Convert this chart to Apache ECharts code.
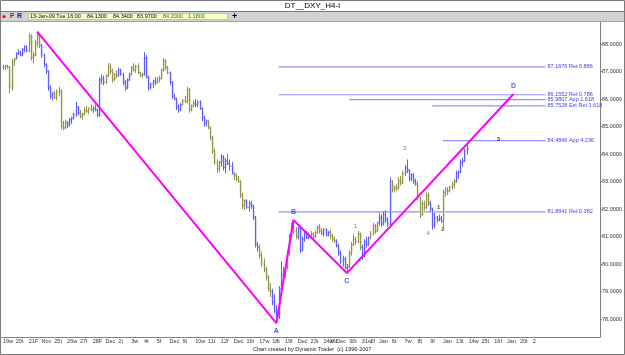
<!DOCTYPE html>
<html>
<head>
<meta charset="utf-8">
<script src="https://cdn.jsdelivr.net/npm/echarts@6/dist/echarts.min.js"></script>
<style>
  html, body { margin: 0; padding: 0; background: #fff; }
  #main { width: 625px; height: 355px; }
</style>
</head>
<body>
<div id="main"></div>
<script>
// day labels on the time axis, and how many H4 bars each session has
const dayLabels = ['19w','20t','21F','Nov','25t','26w','27t','28F','Dec','2t','3w','4t','5f','Dec','9t','10w','11t','12f',
  'Dec','16t','17w','18t','19f','Dec','23t','24w','26f','Dec','30t','31w','2f','Jan','6t','7w','8t','9f','Jan','13t',
  '14w','15t','16f','Jan','20t','2'];
const dayBarCounts = [6,6,6,6,6,6,6,6,6,6,6,6,6,6,6,6,6,6,6,6,6,6,6,6,6,3,3,6,6,4,4,6,6,6,6,6,6,6,6,6,6,6,6,32];

// H4 bars: [open, high, low, close]
const bars = [
  [87.15,87.25,87.05,87.15],[87.15,87.25,87.05,87.2],[87.2,87.25,87.1,87.15],[87.15,87.2,86.2,86.4],[86.4,87.45,86.3,87.35],[87.35,87.5,87.2,87.45],
  [87.45,87.7,87.45,87.65],[87.65,87.8,87.6,87.7],[87.7,87.75,87.55,87.6],[87.6,87.85,87.55,87.8],[87.8,87.95,87.7,87.9],[87.9,87.95,87.7,87.75],
  [87.75,88.4,87.7,88.3],[88.3,88.35,87.4,87.5],[87.5,87.7,87.3,87.6],[87.6,88.15,87.55,88.05],[88.05,88.45,87.9,88.3],[88.3,88.4,87.85,87.95],
  [87.95,88.0,87.5,87.6],[87.6,87.65,87.15,87.25],[87.25,87.3,86.9,87.0],[87.0,87.05,86.3,86.4],[86.4,86.5,86.0,86.1],[86.1,86.25,85.95,86.2],
  [86.2,86.3,86.0,86.05],[86.05,86.35,85.95,86.25],[86.25,86.45,86.1,86.3],[86.3,86.35,84.9,85.0],[85.0,85.2,84.87,84.95],[84.95,85.25,84.9,85.15],
  [85.15,85.2,84.95,85.05],[85.05,85.3,85.0,85.25],[85.25,85.35,85.1,85.3],[85.3,85.5,85.25,85.45],[85.45,85.9,85.35,85.7],[85.7,85.75,85.4,85.5],
  [85.5,85.6,85.3,85.35],[85.35,85.5,85.25,85.45],[85.45,85.7,85.4,85.6],[85.6,85.75,85.5,85.55],[85.55,85.7,85.45,85.65],[85.65,85.8,85.55,85.6],
  [85.6,85.75,85.5,85.65],[85.65,85.8,85.55,85.6],[85.6,85.65,85.35,85.4],[85.4,86.8,85.35,86.7],[86.7,86.9,86.55,86.75],[86.75,86.85,86.5,86.6],
  [86.6,86.9,86.55,86.85],[86.85,87.3,86.8,87.2],[87.2,87.3,86.9,87.0],[87.0,87.1,86.6,86.7],[86.7,86.95,86.65,86.9],[86.9,87.05,86.75,86.85],
  [86.85,87.15,86.8,87.05],[87.05,87.1,86.85,86.9],[86.9,86.95,86.5,86.6],[86.6,86.7,86.3,86.4],[86.4,86.75,86.35,86.7],[86.7,86.95,86.65,86.9],
  [86.9,87.2,86.85,87.15],[87.15,87.3,87.0,87.05],[87.05,87.25,86.95,87.2],[87.2,87.3,86.9,86.95],[86.95,87.0,86.8,86.85],[86.85,86.95,86.75,86.9],
  [86.9,87.7,86.85,87.5],[87.5,87.6,86.75,86.8],[86.8,86.85,86.3,86.4],[86.4,86.6,86.35,86.55],[86.55,86.7,86.4,86.65],[86.65,86.8,86.5,86.6],
  [86.6,86.8,86.55,86.7],[86.7,86.85,86.6,86.75],[86.75,87.1,86.7,87.05],[87.05,87.5,87.0,87.4],[87.4,87.45,87.05,87.15],[87.15,87.2,86.9,86.95],
  [86.95,87.0,86.5,86.6],[86.6,86.65,86.0,86.1],[86.1,86.2,85.95,86.0],[86.0,86.05,85.6,85.7],[85.7,85.8,85.5,85.6],[85.6,85.85,85.55,85.8],
  [85.8,86.0,85.75,85.95],[85.95,86.1,85.85,85.9],[85.9,86.45,85.85,86.35],[86.35,86.4,85.5,85.6],[85.6,85.8,85.55,85.75],[85.75,85.95,85.7,85.85],
  [85.85,86.0,85.7,85.8],[85.8,85.95,85.7,85.9],[85.9,85.95,85.6,85.65],[85.65,85.7,85.2,85.3],[85.3,85.4,85.0,85.1],[85.1,85.25,85.0,85.2],
  [85.2,85.25,84.9,84.95],[84.95,85.0,84.5,84.6],[84.6,84.65,84.0,84.1],[84.1,84.2,83.6,83.7],[83.7,83.8,83.3,83.45],[83.45,83.75,83.35,83.7],
  [83.7,84.0,83.55,83.9],[83.9,83.95,83.4,83.5],[83.5,83.85,83.3,83.75],[83.75,84.0,83.6,83.65],[83.65,83.8,83.4,83.55],[83.55,83.7,83.25,83.3],
  [83.3,83.35,83.05,83.2],[83.2,83.3,83.0,83.1],[83.1,83.2,82.95,83.0],[83.0,83.05,82.4,82.5],[82.5,82.6,82.0,82.1],[82.1,82.35,81.95,82.3],
  [82.3,82.35,82.0,82.05],[82.05,82.3,81.9,82.2],[82.2,82.3,82.0,82.1],[82.1,82.15,81.6,81.7],[81.7,81.75,80.6,80.7],[80.7,80.8,80.45,80.6],
  [80.6,80.7,80.2,80.3],[80.3,80.45,79.9,80.0],[80.0,80.2,79.7,79.8],[79.8,79.9,79.4,79.5],[79.5,79.6,79.0,79.1],[79.1,79.3,78.8,79.0],
  [79.0,79.1,78.5,78.6],[78.6,78.9,78.2,78.3],[78.3,78.5,77.85,78.1],[78.1,79.2,78.0,79.1],[79.1,80.1,79.0,79.6],[79.6,79.9,79.45,79.7],
  [79.7,79.95,79.5,79.85],[79.85,80.5,79.8,80.4],[80.4,81.1,80.3,81.0],[81.0,81.5,80.9,81.4],[81.4,81.6,81.1,81.2],[81.2,81.35,80.9,81.0],
  [81.0,81.35,80.9,81.3],[81.3,81.35,80.4,80.5],[80.5,81.0,80.45,80.9],[80.9,81.2,80.8,81.1],[81.1,81.2,80.9,80.95],[80.95,81.15,80.9,81.05],
  [81.05,81.2,80.95,81.1],[81.1,81.15,80.9,81.0],[81.0,81.2,80.95,81.15],[81.15,81.4,81.1,81.35],[81.35,81.45,81.1,81.2],[81.2,81.3,81.05,81.1],
  [81.1,81.3,81.0,81.25],[81.25,81.3,81.0,81.05],[81.05,81.2,81.0,81.15],
  [81.15,81.25,80.9,81.0],[81.0,81.1,80.8,80.9],[80.9,81.0,80.75,80.85],
  [80.85,80.9,80.6,80.65],[80.65,80.75,80.3,80.4],[80.4,80.5,80.0,80.1],[80.1,80.3,79.9,80.2],[80.2,80.25,79.8,79.85],[79.85,80.0,79.67,79.9],
  [79.9,80.5,79.85,80.4],[80.4,80.8,80.3,80.7],[80.7,81.1,80.65,80.9],[80.9,81.0,80.7,80.8],[80.8,81.2,80.75,81.1],[81.1,81.15,80.5,80.6],
  [80.6,80.7,80.15,80.3],[80.3,80.9,80.25,80.8],[80.8,81.0,80.6,80.7],[80.7,81.0,80.65,80.95],
  [80.95,81.2,80.9,81.1],[81.1,81.5,81.05,81.4],[81.4,81.45,81.1,81.2],[81.2,81.55,81.15,81.5],
  [81.5,81.85,81.4,81.7],[81.7,81.8,81.35,81.45],[81.45,81.9,81.4,81.8],[81.8,81.95,81.5,81.6],[81.6,81.7,81.35,81.45],[81.45,83.15,81.4,83.0],
  [83.0,83.05,82.6,82.7],[82.7,82.85,82.6,82.8],[82.8,82.9,82.65,82.75],[82.75,83.15,82.7,83.05],[83.05,83.2,82.85,82.95],[82.95,83.4,82.9,83.3],
  [83.3,83.6,83.2,83.5],[83.5,83.8,83.3,83.4],[83.4,83.45,83.0,83.1],[83.1,83.3,83.0,83.25],[83.25,83.3,82.9,83.0],[83.0,83.1,82.85,82.9],
  [82.9,83.0,82.3,82.4],[82.4,82.45,81.67,81.8],[81.8,82.3,81.75,82.2],[82.2,82.3,81.95,82.05],[82.05,82.6,82.0,82.5],[82.5,82.6,82.1,82.2],
  [82.2,82.3,81.9,82.0],[82.0,82.05,81.25,81.4],[81.4,81.85,81.3,81.7],[81.7,81.75,81.5,81.6],[81.6,81.8,81.55,81.65],[81.65,81.75,81.5,81.55],
  [81.55,82.7,81.35,82.6],[82.6,82.8,82.45,82.7],[82.7,82.8,82.5,82.65],[82.65,82.85,82.6,82.8],[82.8,83.0,82.7,82.9],[82.9,83.1,82.75,83.0],
  [83.0,83.4,82.95,83.3],[83.3,83.4,83.1,83.35],[83.35,83.8,83.3,83.7],[83.7,83.85,83.55,83.75],[83.75,84.2,83.7,84.1],[84.13,84.34,83.97,84.2]
];

// ABCD pattern pivots (bar index, price)
const pivotIdx = [16, 128, 136, 161, 239];
const pivotPrice = [88.45, 77.85, 81.6, 79.67, 86.18];
const pivotNames = ['', 'A', 'B', 'C', 'D'];

// projection levels
const levelValues = [87.1676, 86.1552, 85.9807, 85.7528, 84.4846, 81.8941];
const levelText = ['87.1676 Ret 0.886', '86.1552 Ret 0.786', '85.9807 App 1.618', '85.7528 Ext Ret 1.618', '84.4846 App 4.236', '81.8941 Ret 0.382'];
const levelStart = [129, 129, 162, 201, 206, 129];
const levelEnd = 254;

// wave counts (bar index, price, text)
const waveBlue = [[165, 81.36, '1'], [167, 80.15, '2'], [188, 84.2, '3'], [199, 81.1, '4']];
const waveBlack = [[204, 82.07, '1'], [206, 81.27, '2'], [232, 84.55, '3']];

const yTicks = [78, 79, 80, 81, 82, 83, 84, 85, 86, 87, 88];
const lastBar = ['13-Jan-09 Tue 16:00', '84.1300', '84.3400', '83.9700', '84.2000', '1.1800'];

// ---- build categories ----
const cats = [];
const barDay = [];
const labelOf = {};
dayBarCounts.forEach((n, d) => {
  for (let k = 0; k < n; k++) {
    const name = d + '-' + k;
    if (k === 0) labelOf[name] = dayLabels[d];
    cats.push(name);
    barDay.push(d);
  }
});
const isDayStart = (i) => labelOf[cats[i]] !== undefined;

const FONT = 'Liberation Sans';
const blueBar = '#6060f4', oliveBar = '#93934f';
const blueBody = '#d6d6fa', oliveBody = '#e4e4c8';

const chart = echarts.init(document.getElementById('main'));
chart.setOption({
  animation: false,
  backgroundColor: '#ffffff',
  grid: { left: 1, right: 25, top: 22, bottom: 18 },
  xAxis: {
    type: 'category',
    data: cats,
    boundaryGap: true,
    axisLine: { lineStyle: { color: '#808080', width: 1 } },
    axisTick: { interval: (i) => isDayStart(i), length: 4, lineStyle: { color: '#808080' } },
    axisLabel: {
      interval: (i) => isDayStart(i),
      formatter: (v) => labelOf[v] || '',
      align: 'left', verticalAlign: 'top', margin: 1,
      fontSize: 5.5, fontFamily: FONT, color: '#333', hideOverlap: false
    },
    splitLine: { show: false }
  },
  yAxis: {
    type: 'value',
    position: 'right',
    min: 77.345, max: 88.8,
    axisLine: { show: true, lineStyle: { color: '#808080' } },
    axisTick: { show: true, customValues: yTicks, length: 2, lineStyle: { color: '#808080' } },
    axisLabel: { customValues: yTicks, formatter: (v) => v.toFixed(4), fontSize: 5.5, fontFamily: FONT, color: '#333', margin: 2 },
    splitLine: { show: false }
  },
  series: [
    ...levelValues.map((v, k) => ({
      type: 'line', z: 1, silent: true, symbol: 'none',
      data: [[levelStart[k], v], [levelEnd, v]],
      lineStyle: { color: '#9090f6', width: 1.2 },
      endLabel: { show: true, formatter: () => levelText[k], distance: 2, fontSize: 5.5, fontFamily: FONT, color: '#3d3df0' }
    })),
    {
      type: 'custom', z: 2, clip: true,
      data: bars.map((b, i) => [i, b[0], b[1], b[2], b[3]]),
      encode: { x: 0, y: [1, 2, 3, 4] },
      renderItem: (params, api) => {
        const i = api.value(0);
        const o = api.coord([i, api.value(1)]);
        const h = api.coord([i, api.value(2)]);
        const l = api.coord([i, api.value(3)]);
        const c = api.coord([i, api.value(4)]);
        const x = Math.round(o[0]) + 0.5;
        const odd = barDay[i] % 2 === 1;
        const col = odd ? blueBar : oliveBar;
        const body = odd ? blueBody : oliveBody;
        const top = Math.min(o[1], c[1]);
        return {
          type: 'group',
          children: [
            { type: 'rect', shape: { x: x - 1, y: top, width: 2.5, height: Math.abs(o[1] - c[1]) }, style: { fill: body } },
            { type: 'line', shape: { x1: x, y1: h[1], x2: x, y2: l[1] }, style: { stroke: col, lineWidth: 1 } },
            { type: 'line', shape: { x1: x - 1, y1: o[1], x2: x, y2: o[1] }, style: { stroke: col, lineWidth: 1 } },
            { type: 'line', shape: { x1: x, y1: c[1], x2: x + 1, y2: c[1] }, style: { stroke: col, lineWidth: 1 } }
          ]
        };
      },
      markLine: {
        silent: true, symbol: 'none',
        lineStyle: { opacity: 0 },
        data: [{ yAxis: bars[bars.length - 1][3] }],
        label: {
          position: 'end', distance: 1, formatter: (p) => p.value.toFixed(4),
          backgroundColor: '#ffff00', color: '#000', padding: [1, 3], fontSize: 5.5, fontFamily: FONT
        }
      }
    },
    {
      type: 'line', z: 3, silent: true, symbol: 'none',
      data: pivotIdx.map((x, k) => [x, pivotPrice[k]]),
      lineStyle: { color: '#ff00ff', width: 2 }
    },
    {
      type: 'scatter', z: 4, silent: true, symbolSize: 1,
      itemStyle: { color: 'transparent' },
      data: pivotIdx.map((x, k) => ({
        value: [x, pivotPrice[k]],
        label: { position: k % 2 === 1 ? 'bottom' : 'top', distance: 4 }
      })).slice(1),
      label: { show: true, formatter: (p) => pivotNames[p.dataIndex + 1], fontSize: 7, fontWeight: 'bold', fontFamily: FONT, color: '#3535c8' }
    },
    {
      type: 'scatter', z: 4, silent: true, symbolSize: 1,
      itemStyle: { color: 'transparent' },
      data: waveBlue,
      label: { show: true, position: 'inside', formatter: (p) => p.value[2], fontSize: 6, fontFamily: FONT, color: '#4a4ae0' }
    },
    {
      type: 'scatter', z: 4, silent: true, symbolSize: 1,
      itemStyle: { color: 'transparent' },
      data: waveBlack,
      label: { show: true, position: 'inside', formatter: (p) => p.value[2], fontSize: 6, fontWeight: 'bold', fontFamily: FONT, color: '#111' }
    }
  ],
  graphic: [
    { type: 'rect', shape: { x: 0, y: 0, width: 625, height: 12 }, style: { fill: '#ffffff' } },
    { type: 'line', shape: { x1: 0, y1: 11.5, x2: 625, y2: 11.5 }, style: { stroke: '#7a7a7a' } },
    { type: 'rect', shape: { x: 0, y: 12, width: 625, height: 9 }, style: { fill: '#d2d2d2' } },
    { type: 'line', shape: { x1: 0, y1: 21.5, x2: 625, y2: 21.5 }, style: { stroke: '#a0a0a0' } },
    { type: 'text', left: 'center', top: 2, style: { text: 'DT__DXY_H4-I', font: '8px ' + FONT, fill: '#000' } },
    { type: 'circle', shape: { cx: 4, cy: 16.5, r: 1.6 }, style: { fill: '#e01010' } },
    { type: 'text', x: 10, y: 13, style: { text: 'F', font: 'bold 7px ' + FONT, fill: '#a01818' } },
    { type: 'text', x: 17, y: 13, style: { text: 'R', font: 'bold 7px ' + FONT, fill: '#202080' } },
    { type: 'rect', shape: { x: 28.5, y: 13.5, width: 199, height: 6 }, style: { fill: '#ffffc8', stroke: '#c8c8a0', lineWidth: 1 } },
    { type: 'text', x: 30, y: 13.5, style: { text: lastBar[0], font: '5.5px ' + FONT, fill: '#000' } },
    { type: 'text', x: 87, y: 13.5, style: { text: lastBar[1], font: '5.5px ' + FONT, fill: '#000' } },
    { type: 'text', x: 113, y: 13.5, style: { text: lastBar[2], font: '5.5px ' + FONT, fill: '#000' } },
    { type: 'text', x: 137, y: 13.5, style: { text: lastBar[3], font: '5.5px ' + FONT, fill: '#000' } },
    { type: 'text', x: 163, y: 13.5, style: { text: lastBar[4], font: '5.5px ' + FONT, fill: '#108010' } },
    { type: 'text', x: 188, y: 13.5, style: { text: lastBar[5], font: '5.5px ' + FONT, fill: '#108010' } },
    { type: 'text', x: 232, y: 12, style: { text: '+', font: 'bold 9px ' + FONT, fill: '#000' } },
    { type: 'text', x: 253, y: 346.5, style: { text: 'Chart created by Dynamic Trader  (c) 1996-2007', font: '5.5px ' + FONT, fill: '#222' } },
    { type: 'rect', shape: { x: 0.5, y: 0.5, width: 624, height: 354 }, style: { fill: 'none', stroke: '#7a7a7a', lineWidth: 1 } }
  ]
});
</script>
</body>
</html>
